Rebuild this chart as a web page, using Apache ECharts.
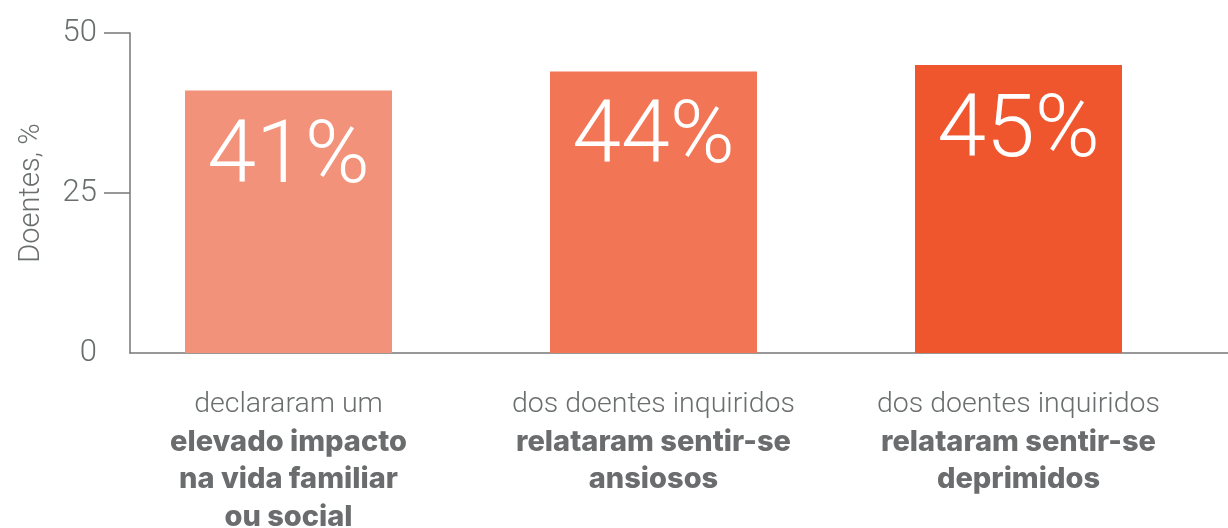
<!DOCTYPE html>
<html>
<head>
<meta charset="utf-8">
<script src="https://cdn.jsdelivr.net/npm/echarts@6/dist/echarts.min.js"></script>
<style>
  html, body { margin: 0; padding: 0; background: #fff; }
  #chart { width: 1228px; height: 528px; }
</style>
</head>
<body>
<div id="chart"></div>
<script>
// dados
var values = [41, 44, 45];
var barColors = ['#F3927A', '#F27556', '#F0562E'];
var lightLines = [
	['declararam um'],
	['dos doentes inquiridos'],
	['dos doentes inquiridos']
];
var boldLines = [
	['elevado impacto', 'na vida familiar', 'ou social'],
	['relataram sentir-se', 'ansiosos'],
	['relataram sentir-se', 'deprimidos']
];
var yTicks = [0, 25, 50];
var categories = ['c1', 'c2', 'c3'];

var gray = '#6b6e6e';
var font = 'Roboto, "Liberation Sans", sans-serif';
var boldFont = 'Inter, Roboto, sans-serif';

var chart = echarts.init(document.getElementById('chart'));

var option = {
	animation: false,
	grid: [
		// eixo y e linha de base
		{ left: 130, right: 0, top: 33, bottom: 175, outerBoundsMode: 'none' },
		// barras
		{ left: 106, right: 27, top: 33, bottom: 175, outerBoundsMode: 'none' }
	],
	xAxis: [
		{
			gridIndex: 0,
			type: 'category',
			data: categories,
			axisLine: { lineStyle: { color: '#777', width: 1.5 } },
			axisTick: { show: false },
			axisLabel: { show: false }
		},
		{
			gridIndex: 1,
			type: 'category',
			data: categories,
			axisLine: { show: false },
			axisTick: { show: false },
			axisLabel: {
				margin: 33,
				formatter: function (v, i) {
					var s = [];
					lightLines[i].forEach(function (l) { s.push('{l|' + l + '}'); });
					boldLines[i].forEach(function (l) { s.push('{b|' + l + '}'); });
					return s.join('\n');
				},
				rich: {
					l: { fontFamily: font, fontWeight: 300, fontSize: 28.5, color: gray, lineHeight: 37.5, align: 'center' },
					b: { fontFamily: boldFont, fontWeight: 800, fontSize: 29, color: '#6a6c6d', lineHeight: 37.5, align: 'center' }
				}
			}
		}
	],
	yAxis: [
		{
			gridIndex: 0,
			type: 'value',
			min: 0,
			max: 50,
			interval: 25,
			name: 'Doentes, %',
			nameLocation: 'middle',
			nameGap: 84,
			nameTextStyle: { fontFamily: font, fontWeight: 300, fontSize: 29, color: gray },
			axisLine: { show: true, lineStyle: { color: '#777', width: 1.5 } },
			axisTick: { show: true, length: 26, customValues: [25, 50], lineStyle: { color: '#777', width: 1.5 } },
			axisLabel: {
				margin: 33,
				customValues: yTicks,
				fontFamily: font, fontWeight: 300, fontSize: 31, color: gray
			},
			splitLine: { show: false }
		},
		{
			gridIndex: 1,
			type: 'value',
			min: 0,
			max: 50,
			show: false
		}
	],
	series: [
		{
			type: 'bar',
			xAxisIndex: 1,
			yAxisIndex: 1,
			barWidth: 207,
			data: values.map(function (v, i) {
				return { value: v, itemStyle: { color: barColors[i] } };
			}),
			label: {
				show: true,
				position: 'insideTop',
				distance: 25,
				formatter: '{c}%',
				fontFamily: font,
				fontWeight: 300,
				fontSize: 88,
				color: '#fff'
			}
		}
	]
};

chart.setOption(option);
</script>
</body>
</html>
